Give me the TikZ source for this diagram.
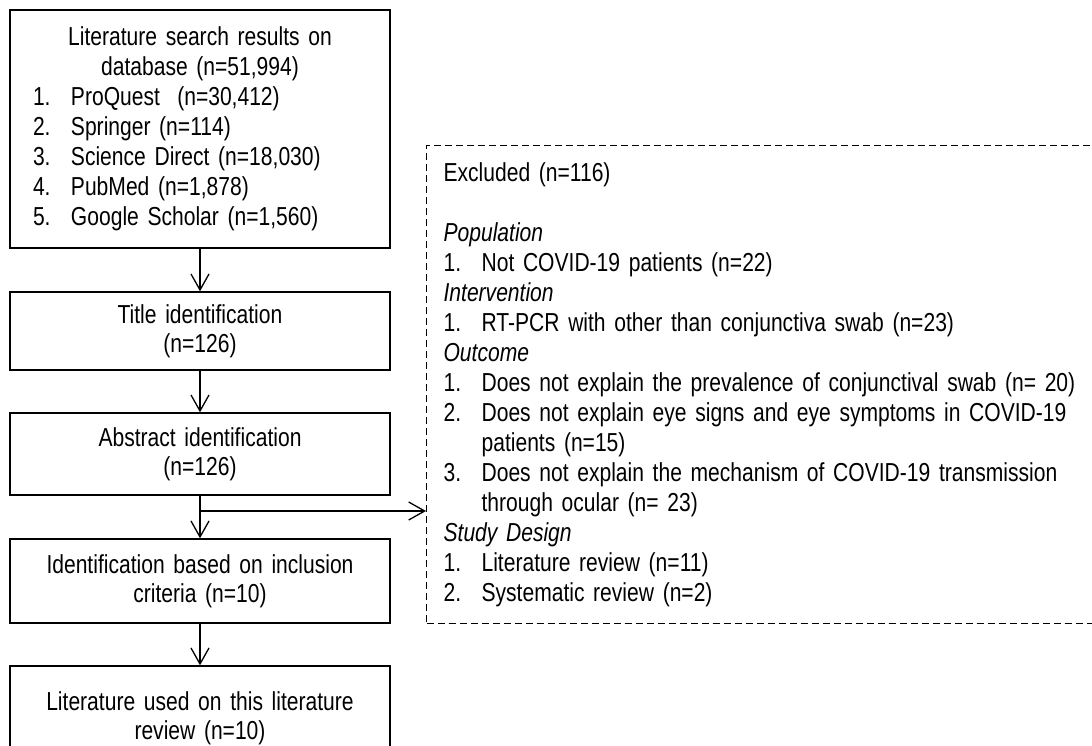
\documentclass[tikz,border=0pt]{standalone}
\usepackage{fontspec}
\setmainfont{Liberation Sans}[FakeStretch=0.81]
\usetikzlibrary{arrows.meta}
\newcommand{\listno}[2]{\makebox[38pt][l]{#1}#2}
\newcommand{\listgap}{\hspace*{38pt}}
\begin{document}
\begin{tikzpicture}[x=1pt, y=-1pt,
    stepbox/.style={draw, line width=1.4pt, text width=350pt, inner xsep=15pt, inner ysep=0pt,
        align=center, font=\fontsize{26}{29}\selectfont},
    exclbox/.style={draw, dash pattern=on 7pt off 4pt, line width=1.2pt, anchor=north west,
        text width=680pt, inner xsep=17pt, inner ysep=17pt, align=left,
        font=\fontsize{26}{30}\selectfont},
    arr/.style={-{Straight Barb[length=16pt, width=18pt]}, line width=1.3pt}]
    \useasboundingbox (0,0) rectangle (1092,745);

    \node[stepbox, text width=334pt, inner xsep=23pt, minimum height=238pt, align=left,
          font=\fontsize{26}{30}\selectfont] (search) at (200,129)
        {\makebox[\linewidth]{Literature search results on}\\
         \makebox[\linewidth]{database (n=51,994)}\\
         \listno{1.}{ProQuest\ \ (n=30,412)}\\
         \listno{2.}{Springer (n=114)}\\
         \listno{3.}{Science Direct (n=18,030)}\\
         \listno{4.}{PubMed (n=1,878)}\\
         \listno{5.}{Google Scholar (n=1,560)}};
    \node[stepbox, minimum height=78pt] (title) at (200,331) {Title identification\\(n=126)};
    \node[stepbox, minimum height=82pt] (abstract) at (200,454) {Abstract identification\\(n=126)};
    \node[stepbox, minimum height=84pt] (inclusion) at (200,581) {Identification based on inclusion\\criteria (n=10)};
    \node[stepbox, minimum height=104pt] (used) at (200,718) {Literature used on this literature\\review (n=10)};

    \node[exclbox] (excluded) at (426,145)
        {Excluded (n=116)\\[30pt]
         \textit{Population}\\
         \listno{1.}{Not COVID-19 patients (n=22)}\\
         \textit{Intervention}\\
         \listno{1.}{RT-PCR with other than conjunctiva swab (n=23)}\\
         \textit{Outcome}\\
         \listno{1.}{Does not explain the prevalence of conjunctival swab (n= 20)}\\
         \listno{2.}{Does not explain eye signs and eye symptoms in COVID-19}\\
         \listgap patients (n=15)\\
         \listno{3.}{Does not explain the mechanism of COVID-19 transmission}\\
         \listgap through ocular (n= 23)\\
         \textit{Study Design}\\
         \listno{1.}{Literature review (n=11)}\\
         \listno{2.}{Systematic review (n=2)}};

    \coordinate (split) at (200,511);

    \draw [arr] (search) -- (title);
    \draw [arr] (title) -- (abstract);
    \draw [arr] (abstract) -- (inclusion);
    \draw [arr] (inclusion) -- (used);
    \draw [arr] (split) -- (split -| excluded.west);
\end{tikzpicture}
\end{document}
